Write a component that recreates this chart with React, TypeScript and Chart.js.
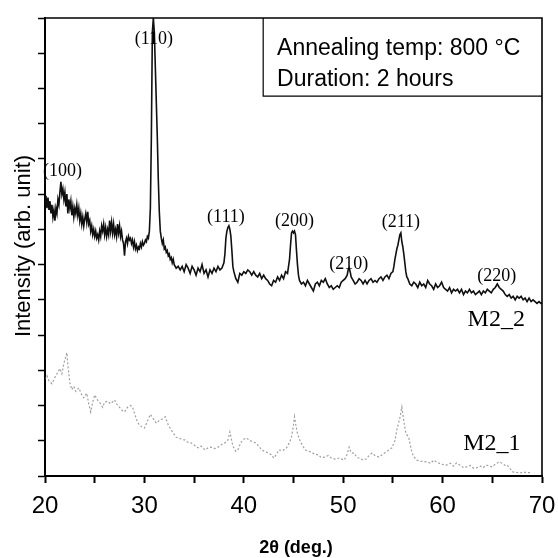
import React, { useEffect, useRef } from 'react';
import { Chart, registerables } from 'chart.js';

Chart.register(...registerables);

// ---------- data ----------
const m22Theta = [
  20.0, 20.1, 20.2, 20.3, 20.4, 20.5, 20.6, 20.7, 20.8, 20.9,
  21.0, 21.1, 21.2, 21.3, 21.4, 21.5, 21.6, 21.7, 21.8, 21.9,
  22.0, 22.1, 22.2, 22.3, 22.4, 22.5, 22.6, 22.7, 22.8, 22.9,
  23.0, 23.1, 23.2, 23.3, 23.4, 23.5, 23.6, 23.7, 23.8, 23.9,
  24.0, 24.1, 24.2, 24.3, 24.4, 24.5, 24.6, 24.7, 24.8, 24.9,
  25.0, 25.1, 25.2, 25.3, 25.4, 25.5, 25.6, 25.7, 25.8, 25.9,
  26.0, 26.1, 26.2, 26.3, 26.4, 26.5, 26.6, 26.7, 26.8, 26.9,
  27.0, 27.1, 27.2, 27.3, 27.4, 27.5, 27.6, 27.7, 27.8, 27.9,
  28.0, 28.1, 28.2, 28.3, 28.4, 28.5, 28.6, 28.7, 28.8, 28.9,
  29.0, 29.1, 29.2, 29.3, 29.4, 29.5, 29.6, 29.7, 29.8, 29.9,
  30.0, 30.1, 30.2, 30.3, 30.4, 30.5, 30.6, 30.7, 30.8, 30.9,
  31.0, 31.1, 31.2, 31.3, 31.4, 31.5, 31.6, 31.7, 31.8, 31.9,
  32.0, 32.1, 32.2, 32.3, 32.4, 32.5, 32.6, 32.7, 32.8, 32.9,
  33.0, 33.2, 33.4, 33.6, 33.8, 34.0, 34.2, 34.4, 34.6, 34.8,
  35.0, 35.2, 35.4, 35.6, 35.8, 36.0, 36.2, 36.4, 36.6, 36.8,
  37.0, 37.2, 37.4, 37.6, 37.8, 38.0, 38.1, 38.2, 38.3, 38.4,
  38.5, 38.6, 38.7, 38.8, 38.9, 39.0, 39.2, 39.4, 39.6, 39.8,
  40.0, 40.2, 40.4, 40.6, 40.8, 41.0, 41.2, 41.4, 41.6, 41.8,
  42.0, 42.2, 42.4, 42.6, 42.8, 43.0, 43.2, 43.4, 43.6, 43.8,
  44.0, 44.2, 44.4, 44.6, 44.7, 44.8, 44.9, 45.0, 45.1, 45.2,
  45.3, 45.4, 45.5, 45.6, 45.8, 46.0, 46.2, 46.4, 46.6, 46.8,
  47.0, 47.2, 47.4, 47.6, 47.8, 48.0, 48.2, 48.4, 48.6, 48.8,
  49.0, 49.2, 49.4, 49.6, 49.8, 50.0, 50.2, 50.4, 50.5, 50.6,
  50.7, 50.8, 51.0, 51.2, 51.4, 51.6, 51.8, 52.0, 52.2, 52.4,
  52.6, 52.8, 53.0, 53.2, 53.4, 53.6, 53.8, 54.0, 54.2, 54.4,
  54.6, 54.8, 55.0, 55.1, 55.2, 55.3, 55.4, 55.5, 55.6, 55.7,
  55.8, 55.9, 56.0, 56.1, 56.2, 56.3, 56.4, 56.5, 56.7, 56.9,
  57.1, 57.3, 57.5, 57.7, 57.9, 58.1, 58.3, 58.5, 58.7, 58.9,
  59.1, 59.3, 59.5, 59.7, 59.9, 60.1, 60.3, 60.5, 60.7, 60.9,
  61.1, 61.3, 61.5, 61.7, 61.9, 62.1, 62.3, 62.5, 62.7, 62.9,
  63.1, 63.3, 63.5, 63.7, 63.9, 64.1, 64.3, 64.5, 64.7, 64.9,
  65.1, 65.3, 65.5, 65.7, 65.9, 66.1, 66.3, 66.5, 66.7, 66.9,
  67.1, 67.3, 67.5, 67.7, 67.9, 68.1, 68.3, 68.5, 68.7, 68.9,
  69.1, 69.3, 69.5, 69.7, 69.9, 70.0,
];
const m22Intensity = [
  7.70, 7.95, 7.60, 7.90, 7.55, 7.80, 7.45, 7.70, 7.35, 7.55,
  7.25, 7.60, 7.45, 7.85, 7.70, 8.05, 8.35, 8.00, 8.15, 7.85,
  8.05, 7.65, 8.00, 7.45, 7.85, 7.60, 7.80, 7.40, 7.65, 7.35,
  7.60, 7.45, 7.70, 7.40, 7.60, 7.25, 7.45, 7.15, 7.35, 7.10,
  7.30, 7.45, 7.20, 7.50, 7.15, 7.25, 6.95, 7.10, 6.85, 7.00,
  6.80, 6.95, 6.75, 6.85, 6.70, 6.95, 6.80, 7.10, 6.95, 7.15,
  6.85, 7.05, 6.80, 7.00, 6.85, 7.25, 6.95, 7.20, 6.90, 7.15,
  6.85, 7.00, 6.80, 7.15, 6.90, 7.10, 6.80, 6.95, 6.70, 6.60,
  6.25, 6.65, 6.75, 6.60, 6.80, 6.70, 6.75, 6.60, 6.70, 6.50,
  6.65, 6.45, 6.55, 6.40, 6.50, 6.45, 6.60, 6.50, 6.65, 6.55,
  6.60, 6.70, 6.65, 6.80, 6.75, 6.95, 7.60, 9.60, 12.60, 13.00,
  12.60, 11.60, 10.60, 9.60, 8.40, 7.50, 6.95, 6.75, 6.60, 6.70,
  6.45, 6.50, 6.35, 6.40, 6.25, 6.30, 6.15, 6.20, 6.05, 6.15,
  6.00, 5.90, 5.95, 5.85, 5.95, 5.80, 6.00, 5.90, 5.75, 5.95,
  5.85, 5.70, 5.90, 5.80, 6.00, 5.75, 5.85, 5.65, 5.85, 5.75,
  5.90, 5.80, 5.95, 5.85, 5.90, 6.05, 6.30, 6.75, 6.95, 7.05,
  7.10, 7.00, 6.80, 6.40, 5.95, 5.80, 5.60, 5.50, 5.75, 5.70,
  5.80, 5.75, 5.85, 5.80, 5.70, 5.80, 5.70, 5.65, 5.75, 5.60,
  5.70, 5.60, 5.55, 5.45, 5.40, 5.55, 5.50, 5.65, 5.55, 5.70,
  5.60, 5.80, 5.75, 6.15, 6.55, 6.90, 6.95, 6.90, 6.95, 6.85,
  6.40, 6.00, 5.70, 5.55, 5.45, 5.50, 5.40, 5.55, 5.45, 5.35,
  5.25, 5.45, 5.50, 5.40, 5.55, 5.50, 5.60, 5.45, 5.35, 5.40,
  5.30, 5.35, 5.40, 5.35, 5.50, 5.55, 5.60, 5.70, 5.85, 5.90,
  5.80, 5.65, 5.55, 5.45, 5.50, 5.60, 5.55, 5.45, 5.55, 5.45,
  5.55, 5.60, 5.50, 5.55, 5.50, 5.60, 5.65, 5.55, 5.65, 5.70,
  5.60, 5.75, 5.80, 5.95, 6.15, 6.30, 6.45, 6.55, 6.70, 6.85,
  6.90, 6.65, 6.50, 6.30, 6.05, 5.80, 5.65, 5.60, 5.45, 5.40,
  5.50, 5.45, 5.35, 5.50, 5.40, 5.45, 5.35, 5.55, 5.45, 5.40,
  5.30, 5.45, 5.35, 5.40, 5.50, 5.35, 5.30, 5.25, 5.35, 5.20,
  5.30, 5.25, 5.30, 5.20, 5.30, 5.15, 5.25, 5.20, 5.30, 5.20,
  5.25, 5.15, 5.20, 5.25, 5.15, 5.25, 5.20, 5.30, 5.25, 5.20,
  5.30, 5.35, 5.45, 5.35, 5.30, 5.25, 5.15, 5.10, 5.15, 5.05,
  5.10, 5.00, 5.10, 5.05, 5.10, 5.00, 5.05, 4.95, 5.05, 4.95,
  5.00, 4.95, 4.90, 4.95, 4.90, 4.92,
];

const m21Theta = [
  20.0, 20.2, 20.4, 20.7, 21.0, 21.3, 21.5, 21.7, 21.9, 22.1,
  22.2, 22.3, 22.5, 22.7, 22.9, 23.1, 23.4, 23.7, 23.9, 24.2,
  24.4, 24.6, 24.8, 25.0, 25.3, 25.6, 25.8, 26.0, 26.3, 26.6,
  27.0, 27.2, 27.5, 27.8, 28.0, 28.3, 28.6, 28.8, 29.1, 29.3,
  29.5, 29.8, 30.0, 30.3, 30.6, 30.9, 31.2, 31.5, 31.8, 32.1,
  32.4, 32.7, 32.9, 33.2, 33.4, 33.7, 34.1, 34.4, 34.7, 35.0,
  35.4, 35.7, 36.1, 36.4, 36.7, 37.1, 37.4, 37.8, 38.1, 38.4,
  38.6, 38.9, 39.2, 39.4, 39.7, 39.9, 40.2, 40.4, 40.8, 41.2,
  41.5, 41.8, 42.1, 42.5, 42.8, 43.0, 43.3, 43.5, 43.9, 44.3,
  44.6, 44.8, 45.0, 45.1, 45.2, 45.4, 45.7, 46.0, 46.2, 46.5,
  46.8, 47.1, 47.5, 47.8, 48.2, 48.5, 48.8, 49.2, 49.6, 50.1,
  50.4, 50.6, 50.8, 51.1, 51.4, 51.6, 52.0, 52.3, 52.6, 52.9,
  53.2, 53.6, 54.0, 54.3, 54.6, 54.9, 55.2, 55.4, 55.7, 55.9,
  56.1, 56.3, 56.6, 56.9, 57.1, 57.4, 57.8, 58.4, 58.8, 59.1,
  59.4, 59.8, 60.4, 60.8, 61.1, 61.4, 61.8, 62.1, 62.4, 62.8,
  63.1, 63.4, 63.8, 64.1, 64.4, 64.7, 65.0, 65.3, 65.7, 66.0,
  66.3, 66.5, 66.8, 67.1, 67.5, 67.8, 68.2, 68.5, 68.8,
];
const m21Intensity = [
  2.75, 2.85, 2.70, 2.62, 2.80, 2.95, 3.05, 2.90, 3.20, 3.40,
  3.50, 3.15, 2.65, 2.45, 2.55, 2.40, 2.50, 2.30, 2.22, 2.35,
  2.05, 1.82, 2.10, 2.30, 2.15, 2.05, 1.95, 2.10, 2.12, 2.05,
  2.16, 2.05, 1.95, 1.85, 1.82, 1.95, 2.00, 1.96, 1.70, 1.53,
  1.45, 1.38, 1.36, 1.55, 1.75, 1.62, 1.50, 1.58, 1.62, 1.68,
  1.45, 1.30, 1.22, 1.10, 1.08, 1.05, 1.02, 0.95, 0.94, 0.88,
  0.80, 0.85, 0.74, 0.80, 0.82, 0.78, 0.82, 0.90, 0.94, 1.02,
  1.25, 0.85, 0.70, 0.74, 0.95, 1.02, 1.08, 1.05, 0.98, 0.94,
  0.85, 0.74, 0.70, 0.65, 0.60, 0.51, 0.62, 0.74, 0.72, 0.80,
  0.95, 1.11, 1.45, 1.68, 1.50, 1.20, 0.97, 0.82, 0.74, 0.70,
  0.68, 0.62, 0.60, 0.52, 0.54, 0.58, 0.51, 0.48, 0.51, 0.45,
  0.62, 0.82, 0.66, 0.65, 0.52, 0.51, 0.45, 0.48, 0.58, 0.65,
  0.58, 0.54, 0.62, 0.68, 0.74, 0.80, 1.00, 1.31, 1.65, 1.96,
  1.55, 1.22, 1.08, 0.68, 0.55, 0.45, 0.42, 0.40, 0.36, 0.45,
  0.40, 0.34, 0.31, 0.36, 0.28, 0.37, 0.30, 0.24, 0.26, 0.30,
  0.22, 0.23, 0.28, 0.24, 0.31, 0.28, 0.26, 0.34, 0.40, 0.36,
  0.30, 0.31, 0.20, 0.11, 0.10, 0.09, 0.11, 0.09, 0.10,
];

const xTickValues = [20, 25, 30, 35, 40, 45, 50, 55, 60, 65, 70];
const xTickLabelled = [20, 30, 40, 50, 60, 70];
const yTickValues = [0, 1, 2, 3, 4, 5, 6, 7, 8, 9, 10, 11, 12, 13];

const peakLabels = ['(100)', '(110)', '(111)', '(200)', '(210)', '(211)', '(220)'];
const peakLabelTheta = [21.75, 30.95, 38.2, 45.1, 50.55, 55.8, 65.45];
const peakLabelLevel = [8.64, 12.41, 7.33, 7.22, 6.02, 7.2, 5.68];

const sampleNames = ['M2_2', 'M2_1'];
const sampleNameTheta = [65.4, 64.95];
const sampleNameLevel = [4.43, 0.91];

const infoLines = ['Annealing temp: 800 \u00B0C', 'Duration: 2 hours'];
const yAxisTitle = 'Intensity (arb. unit)';
const xAxisTitle = '2\u03B8 (deg.)';

// ---------- chart ----------
const decorPlugin = {
  id: 'decor',
  afterDraw(chart: any) {
    const { ctx, chartArea } = chart;
    const xs = chart.scales.x;
    const ys = chart.scales.y;
    ctx.save();
    ctx.strokeStyle = '#000';
    ctx.fillStyle = '#000';

    // top and right frame
    ctx.lineWidth = 1.6;
    ctx.beginPath();
    ctx.moveTo(chartArea.left, chartArea.top);
    ctx.lineTo(chartArea.right, chartArea.top);
    ctx.lineTo(chartArea.right, chartArea.bottom);
    ctx.stroke();

    // info box
    const bx = xs.getPixelForValue(41.95);
    const by = ys.getPixelForValue(10.78);
    ctx.lineWidth = 1.2;
    ctx.beginPath();
    ctx.moveTo(bx, chartArea.top);
    ctx.lineTo(bx, by);
    ctx.lineTo(chartArea.right, by);
    ctx.stroke();

    ctx.font = '23px "Liberation Sans", Arial, sans-serif';
    ctx.textAlign = 'left';
    ctx.textBaseline = 'alphabetic';
    const tx = xs.getPixelForValue(43.35);
    ctx.fillText(infoLines[0], tx, ys.getPixelForValue(11.96));
    ctx.fillText(infoLines[1], tx, ys.getPixelForValue(11.08));

    // peak labels
    ctx.font = '18px "Liberation Serif", "Times New Roman", serif';
    ctx.textAlign = 'center';
    ctx.textBaseline = 'middle';
    peakLabels.forEach((t, i) => {
      ctx.fillText(t, xs.getPixelForValue(peakLabelTheta[i]), ys.getPixelForValue(peakLabelLevel[i]));
    });

    // sample names
    ctx.font = '24px "Liberation Serif", "Times New Roman", serif';
    sampleNames.forEach((t, i) => {
      ctx.fillText(t, xs.getPixelForValue(sampleNameTheta[i]), ys.getPixelForValue(sampleNameLevel[i]));
    });

    // axis titles
    ctx.font = 'bold 18px "Liberation Sans", Arial, sans-serif';
    ctx.textAlign = 'center';
    ctx.textBaseline = 'middle';
    ctx.fillText(xAxisTitle, 296, 548);

    ctx.save();
    ctx.translate(24, (chartArea.top + chartArea.bottom) / 2 - 1);
    ctx.rotate(-Math.PI / 2);
    ctx.font = '22px "Liberation Sans", Arial, sans-serif';
    ctx.fillText(yAxisTitle, 0, 0);
    ctx.restore();

    ctx.restore();
  },
};

export default function App() {
  const canvasRef = useRef<HTMLCanvasElement | null>(null);

  useEffect(() => {
    if (!canvasRef.current) return;
    const chart = new Chart(canvasRef.current, {
      type: 'line',
      data: {
        datasets: [
          {
            label: 'M2_2',
            data: m22Theta.map((t, i) => ({ x: t, y: m22Intensity[i] })),
            borderColor: '#101010',
            borderWidth: 1.6,
            pointRadius: 0,
            tension: 0,
            order: 1,
          },
          {
            label: 'M2_1',
            data: m21Theta.map((t, i) => ({ x: t, y: m21Intensity[i] })),
            borderColor: 'rgba(95,95,95,0.6)',
            borderWidth: 1.2,
            borderDash: [2, 2],
            pointRadius: 0,
            tension: 0,
            order: 2,
          },
        ],
      },
      options: {
        animation: false,
        responsive: false,
        maintainAspectRatio: false,
        layout: { padding: { top: 18, right: 16, left: 0, bottom: 0 } },
        plugins: { legend: { display: false }, tooltip: { enabled: false } },
        scales: {
          x: {
            type: 'linear',
            min: 20,
            max: 70,
            afterBuildTicks: (scale: any) => {
              scale.ticks = xTickValues.map((v) => ({ value: v }));
            },
            afterFit: (scale: any) => {
              scale.height = 82;
              scale.paddingLeft = 0;
              scale.paddingRight = 0;
            },
            ticks: {
              autoSkip: false,
              maxRotation: 0,
              padding: 9,
              color: '#000',
              font: { family: '"Liberation Sans", Arial, sans-serif', size: 24 },
              callback: (v: any) => (xTickLabelled.includes(Number(v)) ? String(v) : ''),
            },
            grid: {
              drawOnChartArea: false,
              drawTicks: true,
              tickLength: 7,
              tickWidth: 2,
              tickColor: '#000',
            },
            border: { display: true, width: 2, color: '#000' },
          },
          y: {
            type: 'linear',
            min: 0,
            max: 13,
            afterBuildTicks: (scale: any) => {
              scale.ticks = yTickValues.map((v) => ({ value: v }));
            },
            afterFit: (scale: any) => {
              scale.width = 45;
              scale.paddingTop = 0;
              scale.paddingBottom = 0;
            },
            ticks: {
              autoSkip: false,
              callback: () => '',
            },
            grid: {
              drawOnChartArea: false,
              drawTicks: true,
              tickLength: 7,
              tickWidth: 1.5,
              tickColor: '#000',
            },
            border: { display: true, width: 2, color: '#000' },
          },
        },
      },
      plugins: [decorPlugin],
    });
    return () => chart.destroy();
  }, []);

  return (
    <div style={{ position: 'fixed', left: 0, top: 0, width: 558, height: 558, background: '#fff' }}>
      <canvas ref={canvasRef} width={558} height={558} style={{ display: 'block', width: 558, height: 558 }} />
    </div>
  );
}
